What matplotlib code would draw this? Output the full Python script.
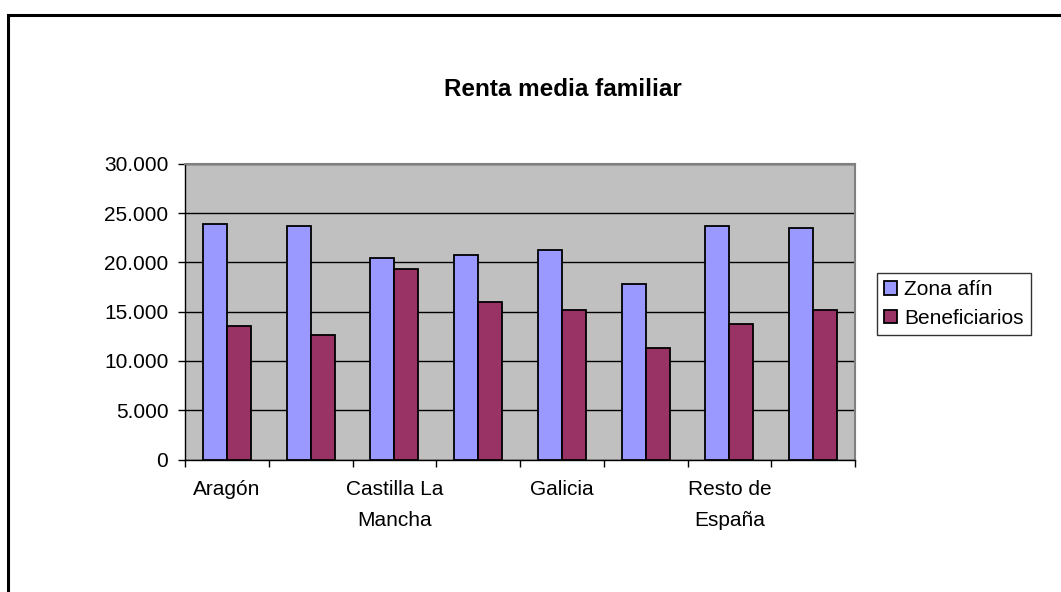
import matplotlib
matplotlib.use("Agg")
import numpy as np
import matplotlib.pyplot as plt
from matplotlib.ticker import FuncFormatter, MultipleLocator
from matplotlib.patches import Rectangle

plt.rcParams['font.family'] = ['Liberation Sans', 'DejaVu Sans']

# data (only every other category name is printed)
categories = ["Aragón", "", "Castilla La\nMancha", "", "Galicia", "", "Resto de\nEspaña", ""]
zona_afin = [23950, 23700, 20500, 20750, 21300, 17850, 23700, 23550]
beneficiarios = [13600, 12600, 19300, 16000, 15200, 11350, 13800, 15200]
series_names = ["Zona afín", "Beneficiarios"]

W, H = 1061, 592
fig = plt.figure(figsize=(W / 100, H / 100), dpi=100)
fig.patch.set_facecolor("white")

ax = fig.add_axes([185 / W, 1 - 459.5 / H, 670 / W, 295.5 / H])
ax.set_facecolor("#C0C0C0")

x = np.arange(len(categories))
bw = 0.287
ax.bar(x - bw / 2, zona_afin, bw, color="#9999FF", edgecolor="black", linewidth=1.3,
       label=series_names[0], zorder=3)
ax.bar(x + bw / 2, beneficiarios, bw, color="#993366", edgecolor="black", linewidth=1.3,
       label=series_names[1], zorder=3)

ax.set_xlim(-0.5, len(categories) - 0.5)
ax.set_ylim(0, 30000)
ax.yaxis.set_major_locator(MultipleLocator(5000))
ax.yaxis.set_major_formatter(FuncFormatter(lambda v, p: f"{int(v):,}".replace(",", ".")))
ax.yaxis.grid(True, color="black", linewidth=1, zorder=1)
ax.set_axisbelow(True)

# tick marks between groups, names under the groups
ax.set_xticks(np.arange(-0.5, len(categories), 1.0), minor=True)
ax.set_xticks(x)
ax.set_xticklabels(categories, linespacing=1.8)
ax.tick_params(axis="x", which="major", length=0, pad=15, labelsize=15)
ax.tick_params(axis="x", which="minor", length=5, width=1, color="black", direction="out")
ax.tick_params(axis="y", length=5, width=1, direction="out", pad=7, labelsize=15)

for s in ["top", "right"]:
    ax.spines[s].set_color("#808080")
    ax.spines[s].set_linewidth(1.5)
for s in ["left", "bottom"]:
    ax.spines[s].set_color("black")
    ax.spines[s].set_linewidth(1)

fig.text(563 / W, 1 - 90 / H, "Renta media familiar", ha="center", va="center",
         fontsize=17.5, fontweight="bold")

leg = ax.legend(loc="upper left", bbox_to_anchor=(877 / W, 1 - 273 / H),
                bbox_transform=fig.transFigure, borderaxespad=0, frameon=True,
                fancybox=False, fontsize=15, handlelength=0.6, handleheight=0.6,
                handletextpad=0.35, borderpad=0.35, labelspacing=0.45)
leg.get_frame().set_edgecolor("black")
leg.get_frame().set_linewidth(1)

# outer chart frame (cut off at the right and bottom in the reference)
fig.add_artist(Rectangle((8 / W, -0.1), 1.2, 1.1 - 15 / H, transform=fig.transFigure,
                         fill=False, edgecolor="black", linewidth=2.2, clip_on=False))

fig.savefig("out.png", dpi=100)
